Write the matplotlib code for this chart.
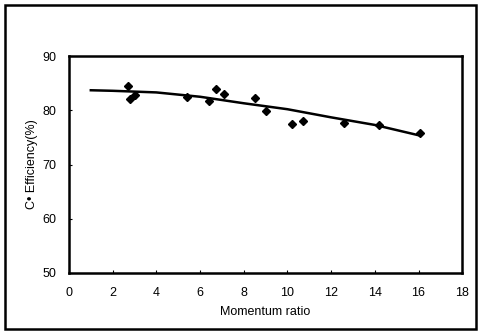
import matplotlib.pyplot as plt
from matplotlib.patches import Rectangle

plt.rcParams['font.family'] = ['Liberation Sans', 'DejaVu Sans']

# measured points
ratio = [2.72, 2.8, 3.0, 5.4, 6.42, 6.72, 7.1, 8.5, 9.02, 10.23, 10.72, 12.58, 14.19, 16.06]
efficiency = [84.5, 82.0, 82.8, 82.5, 81.8, 84.0, 83.1, 82.3, 79.9, 77.4, 78.0, 77.7, 77.3, 75.8]

# fitted curve
fit_x = [1, 2, 4, 6, 8, 10, 12, 14, 16]
fit_y = [83.7, 83.6, 83.3, 82.5, 81.3, 80.2, 78.7, 77.3, 75.4]

xticks = [0, 2, 4, 6, 8, 10, 12, 14, 16, 18]
yticks = [50, 60, 70, 80, 90]

fig = plt.figure(figsize=(4.79, 3.32), dpi=100)
ax = fig.add_axes([0.144, 0.178, 0.821, 0.653])

ax.plot(fit_x, fit_y, color='black', lw=1.8)
ax.plot(ratio, efficiency, 'D', color='black', ms=4.5)

ax.set_xlim(0, 18)
ax.set_ylim(50, 90)
ax.set_xticks(xticks)
ax.set_yticks(yticks)
ax.tick_params(direction='in', length=2, labelsize=9)
ax.tick_params(axis='x', pad=10)
ax.tick_params(axis='y', pad=9)
for s in ax.spines.values():
    s.set_linewidth(1.8)

ax.set_xlabel('Momentum ratio', fontsize=9, labelpad=5)
ax.set_ylabel('C• Efficiency(%)', fontsize=9, labelpad=3)

# outer frame around the whole figure
fig.patches.append(Rectangle((5 / 479, 3 / 332), 471 / 479, 324 / 332,
                             transform=fig.transFigure, fill=False,
                             edgecolor='black', lw=1.8))

fig.savefig('out.png', dpi=100)
